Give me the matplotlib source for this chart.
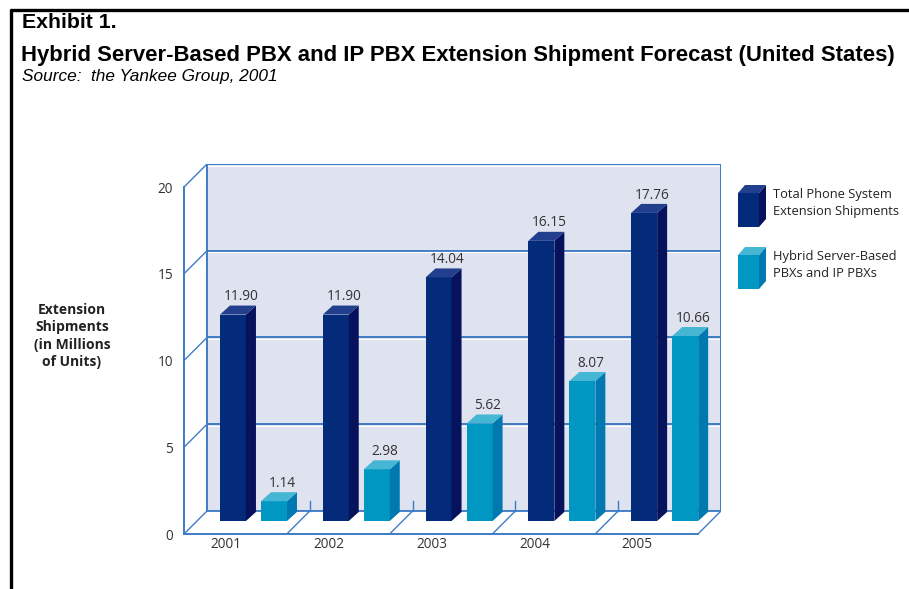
import matplotlib
matplotlib.use("Agg")
import matplotlib.pyplot as plt
from matplotlib.patches import Polygon

# ---- data -------------------------------------------------------------
years = ["2001", "2002", "2003", "2004", "2005"]
total_shipments = [11.90, 11.90, 14.04, 16.15, 17.76]
hybrid_ip_pbx = [1.14, 2.98, 5.62, 8.07, 10.66]
series_names = ["Total Phone System\nExtension Shipments",
                "Hybrid Server-Based\nPBXs and IP PBXs"]
y_ticks = [0, 5, 10, 15, 20]

# ---- styling ----------------------------------------------------------
W, H = 909, 589
GRID = "#3f7cc4"
WALL = "#dfe3f0"
TEXT = "#333333"
DARK = {"front": "#032b7a", "side": "#07125c", "top": "#223f8e"}
LIGHT = {"front": "#0098c3", "side": "#0079b1", "top": "#45b6d4"}
CHART_FONT = ["Open Sans", "DejaVu Sans"]
TITLE_FONT = ["Liberation Sans", "DejaVu Sans"]
NUM_SIZE = 9.8

# depth of the box (back wall offset), in data units
DX, DY = 0.224, 1.33
# bars stand on a plane half way into the box
BX, BY = 0.126, 0.75
BAR_W = 0.253
SDX, SDY = 0.097, 0.52
OFFSETS = [0.224, 0.623]

fig = plt.figure(figsize=(W / 100, H / 100), dpi=100)
fig.patch.set_facecolor("white")

ax = fig.add_axes([184 / W, (H - 534) / H, 537 / W, 370 / H])
ax.set_xlim(0, len(years) + DX)
ax.set_ylim(0, y_ticks[-1] + DY)
ax.patch.set_alpha(0)

n = len(years)
top = y_ticks[-1]

# back wall
ax.add_patch(Polygon([(DX, DY), (n + DX, DY), (n + DX, top + DY), (DX, top + DY)],
                     closed=True, facecolor=WALL, edgecolor="none", zorder=0))
lw = 1.4
for v in y_ticks:
    ax.plot([DX, n + DX], [v + DY, v + DY], color=GRID, lw=lw, zorder=1)
    ax.plot([DX, n + DX], [v + DY - 0.09, v + DY - 0.09], color="white", lw=0.8, zorder=1)
    ax.plot([0, DX], [v, v + DY], color=GRID, lw=1.0, zorder=1)
ax.plot([DX, DX], [DY, top + DY], color=GRID, lw=lw, zorder=1)
ax.plot([n + DX, n + DX], [DY, top + DY], color=GRID, lw=lw, zorder=1)
# floor
ax.plot([n, n + DX], [0, DY], color=GRID, lw=1.0, zorder=1)
for i in range(1, n):
    ax.plot([i, i + DX], [0, DY], color=GRID, lw=1.0, zorder=1)
    ax.plot([i + DX, i + DX], [DY, DY + 0.6], color=GRID, lw=1.0, zorder=1)

# spines as the front edges of the box
for s in ("top", "right"):
    ax.spines[s].set_visible(False)
for s in ("left", "bottom"):
    ax.spines[s].set_color(GRID)
    ax.spines[s].set_linewidth(1.4)
ax.spines["left"].set_bounds(0, top)
ax.spines["bottom"].set_bounds(0, n)

ax.set_yticks(y_ticks)
ax.set_yticklabels([str(t) for t in y_ticks], fontfamily=CHART_FONT, fontsize=NUM_SIZE,
                   color=TEXT)
ax.set_xticks([i + 0.41 for i in range(n)])
ax.set_xticklabels(years, fontfamily=CHART_FONT, fontsize=NUM_SIZE, color=TEXT)
ax.tick_params(axis="y", length=0, pad=8)
ax.tick_params(axis="x", length=0, pad=2)


def bar3d(axis, x0, y0, height, w, dx, dy, colors, z=3):
    x1 = x0 + w
    y1 = y0 + height
    axis.add_patch(Polygon([(x0, y0), (x1, y0), (x1, y1), (x0, y1)], closed=True,
                           facecolor=colors["front"], edgecolor="none", zorder=z))
    axis.add_patch(Polygon([(x1, y0), (x1 + dx, y0 + dy), (x1 + dx, y1 + dy), (x1, y1)],
                           closed=True, facecolor=colors["side"], edgecolor="none", zorder=z))
    axis.add_patch(Polygon([(x0, y1), (x1, y1), (x1 + dx, y1 + dy), (x0 + dx, y1 + dy)],
                           closed=True, facecolor=colors["top"], edgecolor="none", zorder=z))


for values, off, cols in ((total_shipments, OFFSETS[0], DARK),
                          (hybrid_ip_pbx, OFFSETS[1], LIGHT)):
    for i, v in enumerate(values):
        x0 = i + BX + off
        bar3d(ax, x0, BY, v, BAR_W, SDX, SDY, cols)
        ax.text(x0 + (BAR_W + SDX) / 2 + 0.03, BY + v + SDY + 0.08, f"{v:.2f}",
                ha="center", va="bottom", fontfamily=CHART_FONT, fontsize=NUM_SIZE,
                color=TEXT, zorder=5)

# ---- overlay in pixel coordinates: frame, titles, legend ---------------
ov = fig.add_axes([0, 0, 1, 1])
ov.set_xlim(0, W)
ov.set_ylim(H, 0)
ov.axis("off")
ov.patch.set_alpha(0)

ov.plot([10, W], [10, 10], color="black", lw=2.4, solid_capstyle="butt")
ov.plot([11, 11], [9, H], color="black", lw=2.4, solid_capstyle="butt")

ov.text(22, 23, "Exhibit 1.", fontfamily=TITLE_FONT, fontweight="bold",
        fontsize=15.3, va="center", ha="left")
ov.text(21, 56, "Hybrid Server-Based PBX and IP PBX Extension Shipment Forecast (United States)",
        fontfamily=TITLE_FONT, fontweight="bold", fontsize=15.9, va="center", ha="left")
ov.text(22, 77, "Source:  the Yankee Group, 2001", fontfamily=TITLE_FONT,
        fontstyle="italic", fontsize=12.4, va="center", ha="left")

ov.text(72, 336, "Extension\nShipments\n(in Millions\nof Units)", fontfamily=CHART_FONT,
        fontweight="bold", fontsize=10.0, ha="center", va="center", linespacing=1.33,
        color="#222222")

# legend cubes
for k, (cols, y_top) in enumerate(((DARK, 193), (LIGHT, 255))):
    x0, x1, y1 = 738, 759, y_top + 34
    d = 7
    e = 8
    ov.add_patch(Polygon([(x0, y1), (x1, y1), (x1, y_top), (x0, y_top)],
                         facecolor=cols["front"], edgecolor="none"))
    ov.add_patch(Polygon([(x1, y1), (x1 + d, y1 - e), (x1 + d, y_top - e), (x1, y_top)],
                         facecolor=cols["side"], edgecolor="none"))
    ov.add_patch(Polygon([(x0, y_top), (x1, y_top), (x1 + d, y_top - e), (x0 + d, y_top - e)],
                         facecolor=cols["top"], edgecolor="none"))
    ov.text(773, y_top + 10, series_names[k], fontfamily=CHART_FONT, fontsize=9.3,
            color="#222222", ha="left", va="center", linespacing=1.38)

fig.savefig("out.png", dpi=100, facecolor="white")
